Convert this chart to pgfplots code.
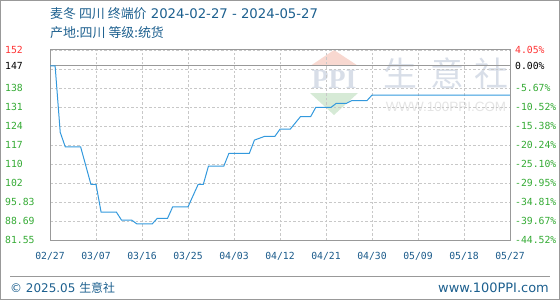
\documentclass[border=0pt]{standalone}
\usepackage{pgfplots}
\pgfplotsset{compat=1.18}
\usepackage{fontspec}
\newfontfamily\cjk{Noto Sans CJK SC}
\newfontfamily\dv{DejaVu Sans}
\newfontfamily\mono{DejaVu Sans Mono}
\newfontfamily\wmserif{Liberation Serif}
\newfontfamily\wmsans{Liberation Sans}
\definecolor{ttl}{HTML}{1C5F8E}
\definecolor{lbl}{HTML}{1A5A8A}
\definecolor{grn}{HTML}{33AA33}
\definecolor{rd}{HTML}{FF3333}
\definecolor{ln}{HTML}{3399DD}
\definecolor{frm}{HTML}{999999}
\definecolor{grd}{HTML}{C8C8C8}
\definecolor{wm}{HTML}{D8DEE8}
\definecolor{wmred}{HTML}{F8D8D0}
\definecolor{wmgrn}{HTML}{D6EAD6}
\definecolor{wmtxt}{HTML}{E4E4E4}
\begin{document}
\begin{tikzpicture}[x=1bp,y=1bp]
\useasboundingbox (0,0) rectangle (560,300);
\draw[frm, line width=1bp] (0.5,0.5) rectangle (559.5,299.5);
% watermark
\fill[wmred] (311.7,235) -- (334,250) -- (356.7,235) -- cycle;
\fill[wmgrn] (310,207) -- (358,207) -- (334,185) -- cycle;
\node[text=wm, font=\wmserif\bfseries\fontsize{28}{28}\selectfont, inner sep=0] at (334,221) {PPI};
\node[text=wm, font=\cjk\fontsize{34}{34}\selectfont, inner sep=0] at (400,226.5) {生};
\node[text=wm, font=\cjk\fontsize{34}{34}\selectfont, inner sep=0] at (447,226.5) {意};
\node[text=wm, font=\cjk\fontsize{34}{34}\selectfont, inner sep=0] at (491,226.5) {社};
\node[text=wmtxt, font=\wmsans\fontsize{13.5}{13.5}\selectfont, inner sep=0] at (446,193) {WWW.100PPI.COM};
% titles
\node[anchor=west, text=ttl, font=\fontsize{13}{13}\selectfont, inner sep=0] at (50,286) {{\cjk 麦冬 四川 终端价} {\dv\fontsize{13.3}{13.3}\selectfont 2024-02-27 - 2024-05-27}};
\node[anchor=west, text=ttl, font=\cjk\fontsize{13}{13}\selectfont, inner sep=0] at (50,267) {产地:四川 等级:统货};
% footer
\draw[frm, line width=1bp] (10,24) -- (550,24);
\node[anchor=west, text=ttl, font=\fontsize{12}{12}\selectfont, inner sep=0] at (10,12) {{\dv © 2025.05} {\cjk 生意社}};
\node[anchor=east, text=ttl, font=\dv\fontsize{13}{13}\selectfont, inner sep=0] at (549,12) {www.100PPI.com};
\begin{axis}[at={(50bp,60bp)}, anchor=south west, scale only axis,
  width=460bp, height=190bp,
  xmin=0, xmax=90, ymin=81.55, ymax=152.95,
  axis line style={frm, line width=1bp},
  xtick={0,9,...,90},
  xticklabels={02/27,03/07,03/16,03/25,04/03,04/12,04/21,04/30,05/09,05/18,05/27},
  ytick={81.55,88.69,95.83,102.97,110.11,117.25,124.39,131.53,138.67,145.81,152.95},
  yticklabels={\textcolor{grn}{81.55},\textcolor{grn}{88.69},\textcolor{grn}{95.83},\textcolor{grn}{102},\textcolor{grn}{110},\textcolor{grn}{117},\textcolor{grn}{124},\textcolor{grn}{131},\textcolor{grn}{138},{},\textcolor{rd}{152}},
  grid=major,
  major grid style={grd, dash pattern=on 2.5bp off 2bp, line width=0.7bp},
  major tick length=0pt,
  tick label style={font=\mono\fontsize{9.8}{10}\selectfont},
  xticklabel style={text=lbl, anchor=north, inner sep=0pt, yshift=-12.5bp},
  yticklabel style={anchor=west, inner sep=0pt, xshift=-45bp},
  extra y ticks={147},
  extra y tick labels={147},
  extra y tick style={grid=major, major grid style={frm, solid, line width=1bp}, yticklabel style={text=black}},
]
\addplot[ln, line width=1bp, mark=none] coordinates {
(0,147) (1,147) (2,122) (3,116.5) (6,116.5) (8,102.5) (9,102.5) (10,92)
(13,92) (14,89) (16,89) (17,87.6) (20,87.6) (21,89.7) (23,89.7) (24,94)
(27,94) (29,102.5) (30,102.5) (31,109.3) (34,109.3) (35,114.1) (39,114.1)
(40,119.1) (41,119.8) (42,120.5) (44,120.5) (45,123.2) (47,123.2) (49,127.9)
(51,127.9) (52,131.4) (55,131.4) (56,132.9) (58,132.9) (59,133.9) (62,133.9)
(63,136) (90,136)
};
\end{axis}
\begin{axis}[at={(50bp,60bp)}, anchor=south west, scale only axis,
  width=460bp, height=190bp,
  xmin=0, xmax=90, ymin=81.55, ymax=152.95,
  axis x line=none, axis y line*=right,
  axis line style={frm, line width=1bp},
  ytick={81.55,88.69,95.83,102.97,110.11,117.25,124.39,131.53,138.67,145.81,152.95},
  yticklabels={\textcolor{grn}{-44.52\%},\textcolor{grn}{-39.67\%},\textcolor{grn}{-34.81\%},\textcolor{grn}{-29.95\%},\textcolor{grn}{-25.10\%},\textcolor{grn}{-20.24\%},\textcolor{grn}{-15.38\%},\textcolor{grn}{-10.52\%},\textcolor{grn}{-5.67\%},{},\textcolor{rd}{4.05\%}},
  major tick length=0pt,
  tick label style={font=\mono\fontsize{9.8}{10}\selectfont},
  yticklabel style={anchor=west, inner sep=0pt, xshift=5bp},
  extra y ticks={147},
  extra y tick labels={0.00\%},
  extra y tick style={yticklabel style={text=black}},
]
\addplot[draw=none, mark=none] coordinates {(0,147) (90,147)};
\end{axis}
\end{tikzpicture}
\end{document}
